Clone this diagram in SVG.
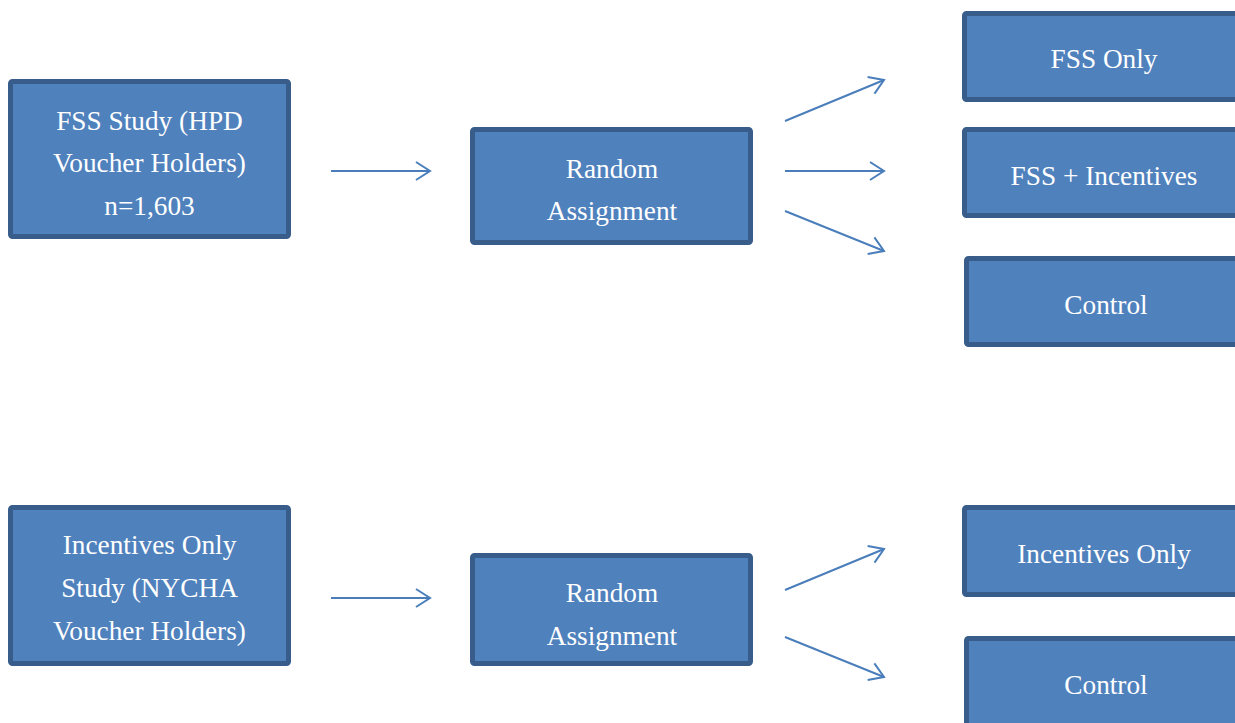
<svg xmlns="http://www.w3.org/2000/svg" width="1235" height="723" viewBox="0 0 1235 723">
<defs>
<style>
.box{fill:#4F81BD;stroke:#385D8A;stroke-width:5}
.t{font-family:"Liberation Serif",serif;font-size:27.3px;fill:#FFFFFF;text-anchor:middle}
.c{stroke:#4A7EBB;stroke-width:2;fill:none}
</style>
<marker id="ah" markerWidth="20" markerHeight="22" refX="16" refY="11" orient="auto" markerUnits="userSpaceOnUse">
<path d="M2,2 L16,11 L2,20" fill="none" stroke="#4A7EBB" stroke-width="2"/>
</marker>
</defs>
<rect width="1235" height="723" fill="#FFFFFF"/>
<g id="connectors">
<line class="c" x1="331" y1="171" x2="430" y2="171" marker-end="url(#ah)"/>
<line class="c" x1="785" y1="121" x2="884" y2="80" marker-end="url(#ah)"/>
<line class="c" x1="785" y1="171" x2="884" y2="171" marker-end="url(#ah)"/>
<line class="c" x1="785" y1="211" x2="884" y2="251" marker-end="url(#ah)"/>
<line class="c" x1="331" y1="598" x2="430" y2="598" marker-end="url(#ah)"/>
<line class="c" x1="785" y1="590" x2="884" y2="549" marker-end="url(#ah)"/>
<line class="c" x1="785" y1="637" x2="884" y2="677" marker-end="url(#ah)"/>
</g>
<g id="fss-study">
<rect class="box" x="10.5" y="81.5" width="278" height="155" rx="2"/>
<text class="t" x="149.5" y="130">FSS Study (HPD</text>
<text class="t" x="149.5" y="172">Voucher Holders)</text>
<text class="t" x="149.5" y="215">n=1,603</text>
</g>
<g id="random-1">
<rect class="box" x="472.5" y="129.5" width="278" height="113" rx="2"/>
<text class="t" x="612" y="178">Random</text>
<text class="t" x="612" y="220">Assignment</text>
</g>
<g id="fss-only">
<rect class="box" x="964.5" y="13.5" width="284" height="86" rx="2"/>
<text class="t" x="1104" y="68">FSS Only</text>
</g>
<g id="fss-incentives">
<rect class="box" x="964.5" y="129.5" width="284" height="86" rx="2"/>
<text class="t" x="1104" y="185">FSS + Incentives</text>
</g>
<g id="control-1">
<rect class="box" x="966.5" y="258.5" width="284" height="86" rx="2"/>
<text class="t" x="1106" y="314">Control</text>
</g>
<g id="incentives-study">
<rect class="box" x="10.5" y="507.5" width="278" height="156" rx="2"/>
<text class="t" x="149.5" y="554">Incentives Only</text>
<text class="t" x="149.5" y="597">Study (NYCHA</text>
<text class="t" x="149.5" y="640">Voucher Holders)</text>
</g>
<g id="random-2">
<rect class="box" x="472.5" y="555.5" width="278" height="108" rx="2"/>
<text class="t" x="612" y="602">Random</text>
<text class="t" x="612" y="645">Assignment</text>
</g>
<g id="incentives-only">
<rect class="box" x="964.5" y="507.5" width="284" height="87" rx="2"/>
<text class="t" x="1104" y="563">Incentives Only</text>
</g>
<g id="control-2">
<rect class="box" x="966.5" y="638.5" width="284" height="90" rx="2"/>
<text class="t" x="1106" y="694">Control</text>
</g>
</svg>
